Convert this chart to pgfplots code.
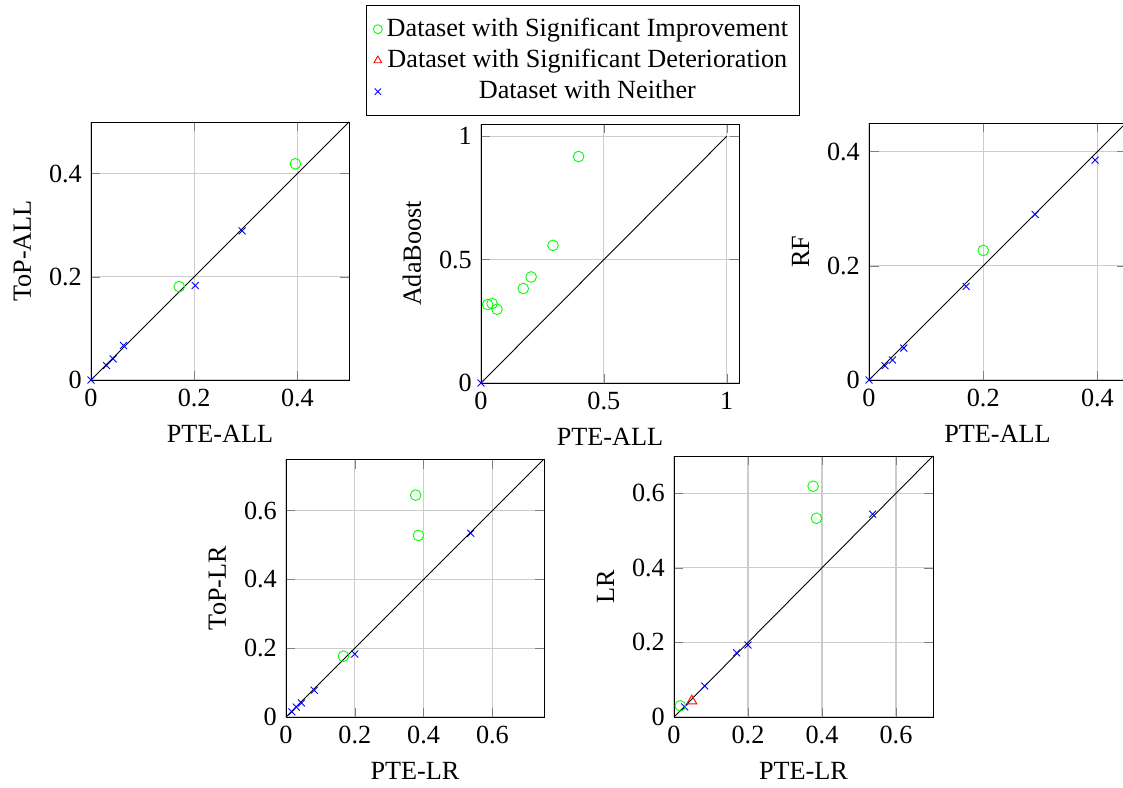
\documentclass[border=0pt]{standalone}
\usepackage{fontspec}
\setmainfont{Liberation Serif}
\usepackage{pgfplots}
\pgfplotsset{compat=1.18}

% 1 px of the reference = 0.45pt
\pgfplotsset{
  diag/.style={
    scale only axis,
    xmin=0, ymin=0,
    grid=major,
    grid style={black!20, line width=0.5pt},
    /pgf/number format/assume math mode=true,
    tick label style={font=\fontsize{11.8}{14}\selectfont},
    label style={font=\fontsize{11.8}{14}\selectfont},
  },
  impr/.style={only marks, mark=o, mark size=2.4pt, color=green, forget plot},
  detr/.style={only marks, mark=triangle, mark size=2.6pt, color=red, forget plot},
  neit/.style={only marks, mark=x, mark size=2.2pt, color=blue, forget plot},
  idline/.style={black, no markers, forget plot},
}

\begin{document}
\fontsize{11.8}{14}\selectfont
\begin{tikzpicture}

% ---------------- ToP-ALL vs PTE-ALL
\begin{axis}[diag, at={(40.95pt,183.15pt)}, anchor=south west,
  width=116.1pt, height=116.1pt, xmax=0.5, ymax=0.5,
  xtick={0,0.2,0.4}, ytick={0,0.2,0.4},
  xlabel={PTE-ALL}, ylabel={ToP-ALL}]
\addplot[idline] coordinates {(0,0) (1,1)};
\addplot[neit] coordinates {(0,0) (0.030,0.028) (0.043,0.041) (0.063,0.067) (0.202,0.183) (0.293,0.289)};
\addplot[impr] coordinates {(0.171,0.181) (0.396,0.419)};
\end{axis}

% ---------------- AdaBoost vs PTE-ALL (holds the legend)
\begin{axis}[diag, at={(216.45pt,181.8pt)}, anchor=south west,
  width=116.1pt, height=116.55pt, xmax=1.05, ymax=1.05,
  xtick={0,0.5,1}, ytick={0,0.5,1},
  xlabel={PTE-ALL}, ylabel={AdaBoost},
  legend style={at={(0.395,1.459)}, anchor=north, inner ysep=3.6pt,
    font=\fontsize{11.8}{14}\selectfont}]
\addlegendimage{only marks, mark=o, green}
\addlegendentry{Dataset with Significant Improvement}
\addlegendimage{only marks, mark=triangle, red}
\addlegendentry{Dataset with Significant Deterioration}
\addlegendimage{only marks, mark=x, blue}
\addlegendentry{Dataset with Neither}
\addplot[idline] coordinates {(0,0) (1,1)};
\addplot[impr] coordinates {(0.027,0.318) (0.045,0.322) (0.065,0.299) (0.172,0.383) (0.204,0.430) (0.293,0.558) (0.397,0.918)};
\addplot[neit] coordinates {(0,0)};
\end{axis}

% ---------------- RF vs PTE-ALL
\begin{axis}[diag, at={(391.05pt,183.15pt)}, anchor=south west,
  width=115.65pt, height=115.65pt, xmax=0.45, ymax=0.45,
  xtick={0,0.2,0.4}, ytick={0,0.2,0.4},
  xlabel={PTE-ALL}, ylabel={RF}]
\addplot[idline] coordinates {(0,0) (1,1)};
\addplot[neit] coordinates {(0,0) (0.028,0.025) (0.041,0.035) (0.061,0.056) (0.170,0.164) (0.291,0.290) (0.396,0.385)};
\addplot[impr] coordinates {(0.200,0.227)};
\end{axis}

% ---------------- ToP-LR vs PTE-LR
\begin{axis}[diag, at={(128.7pt,31.5pt)}, anchor=south west,
  width=116.1pt, height=116.1pt, xmax=0.75, ymax=0.75,
  xtick={0,0.2,0.4,0.6}, ytick={0,0.2,0.4,0.6},
  xlabel={PTE-LR}, ylabel={ToP-LR}]
\addplot[idline] coordinates {(0,0) (1,1)};
\addplot[neit] coordinates {(0.017,0.015) (0.030,0.029) (0.045,0.041) (0.082,0.078) (0.200,0.183) (0.537,0.534)};
\addplot[impr] coordinates {(0.167,0.177) (0.377,0.645) (0.385,0.528)};
\end{axis}

% ---------------- LR vs PTE-LR
\begin{axis}[diag, at={(303.3pt,31.5pt)}, anchor=south west,
  width=116.55pt, height=117.45pt, xmax=0.7, ymax=0.7,
  xtick={0,0.2,0.4,0.6}, ytick={0,0.2,0.4,0.6},
  xlabel={PTE-LR}, ylabel={LR}]
\addplot[idline] coordinates {(0,0) (1,1)};
\addplot[neit] coordinates {(0.029,0.027) (0.083,0.083) (0.169,0.172) (0.200,0.193) (0.537,0.544)};
\addplot[impr] coordinates {(0.017,0.030) (0.376,0.619) (0.385,0.533)};
\addplot[detr] coordinates {(0.048,0.043)};
\end{axis}

\pgfresetboundingbox
\useasboundingbox (0,0) rectangle (505.35pt,354.15pt);
\end{tikzpicture}
\end{document}
